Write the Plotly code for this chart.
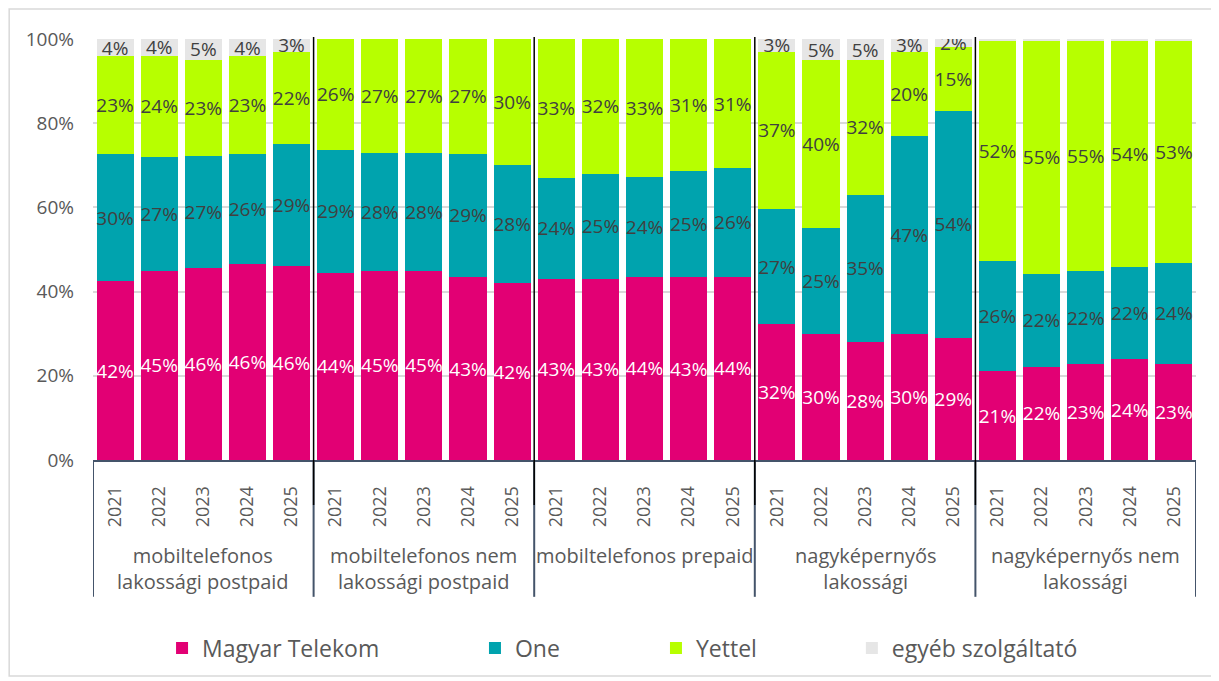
import plotly.graph_objects as go

groups = ["mobiltelefonos<br>lakossági postpaid", "mobiltelefonos nem<br>lakossági postpaid",
          "mobiltelefonos prepaid", "nagyképernyős<br>lakossági", "nagyképernyős nem<br>lakossági"]
years = ["2021", "2022", "2023", "2024", "2025"]

magyar = [42, 45, 46, 46, 46,  44, 45, 45, 43, 42,  43, 43, 44, 43, 44,  32, 30, 28, 30, 29,  21, 22, 23, 24, 23]
one    = [30, 27, 27, 26, 29,  29, 28, 28, 29, 28,  24, 25, 24, 25, 26,  27, 25, 35, 47, 54,  26, 22, 22, 22, 24]
yettel = [23, 24, 23, 23, 22,  26, 27, 27, 27, 30,  33, 32, 33, 31, 31,  37, 40, 32, 20, 15,  52, 55, 55, 54, 53]
egyeb  = [4, 4, 5, 4, 3,  0, 0, 0, 0, 0,  0, 0, 0, 0, 0,  3, 5, 5, 3, 2,  0.5, 0.5, 0.5, 0.5, 0.5]

y_ticks = [0, 20, 40, 60, 80, 100]

series = [
    ("Magyar Telekom", magyar, "#E20074", "white"),
    ("One", one, "#00A3AE", "#404040"),
    ("Yettel", yettel, "#B7FF00", "#404040"),
    ("egyéb szolgáltató", egyeb, "#E6E6E6", "#404040"),
]

n_per = len(years)
xpos = list(range(len(groups) * n_per))
xlab = [y for _ in groups for y in years]

FONT = "Open Sans, sans-serif"
GRAY = "#595959"
fig = go.Figure()
legend_x = [0.0626, 0.3463, 0.5104, 0.688]
for i, (name, vals, color, tcol) in enumerate(series):
    txt = [f"{v:.0f}%" if v >= 1 else "" for v in vals]
    fig.add_trace(go.Bar(
        x=xpos, y=vals, name=name, marker=dict(color=color, line=dict(width=0)),
        text=txt, textposition="inside", insidetextanchor="middle", textangle=0,
        constraintext="none", hoverinfo="name+y",
        textfont=dict(color=tcol, size=19, family=FONT),
        legend="legend" if i == 0 else f"legend{i+1}",
    ))

legend_common = dict(orientation="h", yanchor="middle", y=-0.4466, xanchor="left",
                     font=dict(size=23, color=GRAY, family=FONT), bgcolor="rgba(0,0,0,0)")
lay_leg = {}
for i, lx in enumerate(legend_x):
    key = "legend" if i == 0 else f"legend{i+1}"
    lay_leg[key] = dict(legend_common, x=lx)

shapes = []
annotations = []
n_groups = len(groups)
for k in range(n_groups + 1):
    xb = k * n_per - 0.5
    shapes.append(dict(type="line", xref="x", yref="paper", x0=xb, x1=xb, y0=-0.325, y1=0,
                       line=dict(color="#44546A", width=2), layer="above"))
    if 0 < k < n_groups:
        shapes.append(dict(type="line", xref="x", yref="paper", x0=xb, x1=xb, y0=-0.107, y1=1.005,
                           line=dict(color="black", width=1.5), layer="above"))
for k, g in enumerate(groups):
    annotations.append(dict(x=k * n_per + (n_per - 1) / 2, xref="x", y=-0.19, yref="paper",
                            yanchor="top", xanchor="center", text=g, showarrow=False,
                            font=dict(size=20, color=GRAY, family=FONT)))
shapes.append(dict(type="rect", xref="paper", yref="paper", x0=-0.076, x1=1.0145, y0=-0.513, y1=1.0713,
                   line=dict(color="#D9D9D9", width=1.5), layer="below"))

fig.update_layout(
    barmode="stack", barnorm="percent", bargap=0.16,
    width=1211, height=673,
    margin=dict(l=85, r=23, t=31, b=221, autoexpand=False),
    plot_bgcolor="white", paper_bgcolor="white",
    font=dict(family=FONT, color=GRAY),
    uniformtext=dict(minsize=19, mode="show"),
    showlegend=True,
    shapes=shapes,
    annotations=annotations,
    **lay_leg,
)
fig.update_yaxes(range=[0, 100], tickvals=y_ticks, ticktext=[f"{t}%" for t in y_ticks],
                 gridcolor="#D9D9D9", gridwidth=1.5, zeroline=False, showline=False,
                 tickfont=dict(size=19, color=GRAY, family=FONT), ticks="", ticklabelstandoff=18,
                 automargin=False)
fig.update_xaxes(range=[-0.5, len(xpos) - 0.5], tickvals=xpos, ticktext=xlab, tickangle=-90,
                 showline=True, linecolor="#44546A", linewidth=2, showgrid=False, zeroline=False,
                 tickfont=dict(size=18, color=GRAY, family=FONT), ticks="", ticklabelstandoff=17,
                 automargin=False)
fig.write_html("out.html")
